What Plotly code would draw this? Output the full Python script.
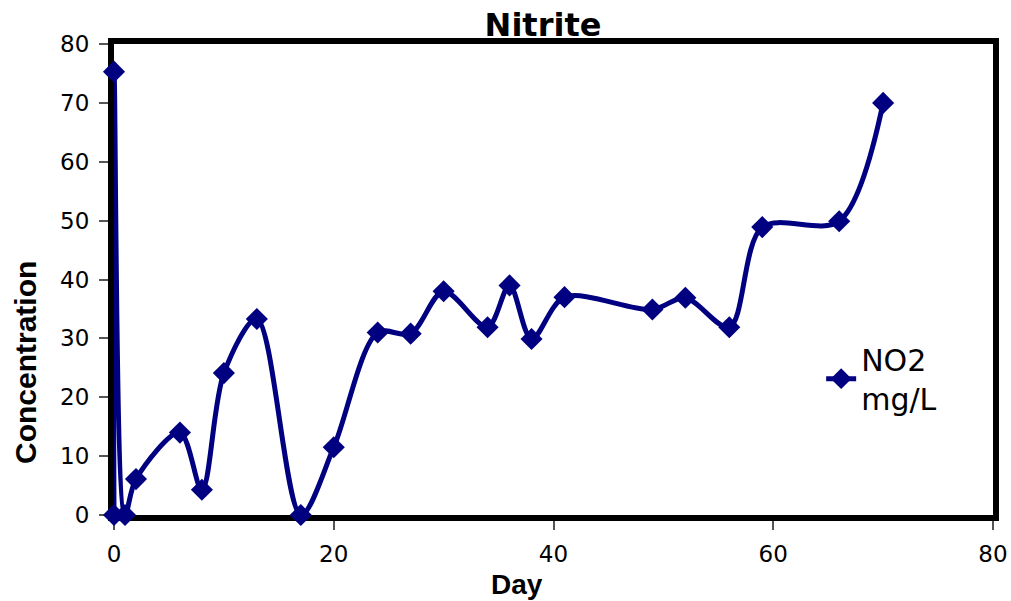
import plotly.graph_objects as go

# NO2 concentration readings over the run
days = [0, 0, 1, 2, 6, 8, 10, 13, 17, 20, 24, 27, 30, 34, 36, 38, 41, 49, 52, 56, 59, 66, 70]
no2_mg_l = [0, 75.3, 0, 6.1, 14.0, 4.3, 24.1, 33.3, 0, 11.5, 31.0, 30.8, 38.0, 31.9, 39.0, 29.9,
            37.0, 34.9, 36.9, 31.9, 48.9, 49.9, 70.0]

x_ticks = [0, 20, 40, 60, 80]
y_ticks = [0, 10, 20, 30, 40, 50, 60, 70, 80]

navy = "#000080"
tick_font = "DejaVu Sans, sans-serif"
bold_font = "Liberation Sans, Arial, sans-serif"

W, H = 1011, 601
L, R, T, B = 114, 18, 44, 86

fig = go.Figure()
fig.add_trace(go.Scatter(
    x=days,
    y=no2_mg_l,
    mode="lines+markers",
    name="NO2<br>mg/L",
    line=dict(color=navy, width=5, shape="spline", smoothing=0.9),
    marker=dict(symbol="diamond", size=17, color=navy),
    cliponaxis=False,
))

axis_common = dict(
    showline=True,
    linecolor="black",
    linewidth=6,
    mirror=True,
    showgrid=False,
    zeroline=False,
    ticks="outside",
    ticklen=9,
    tickwidth=1.5,
    tickcolor="#555555",
    tickfont=dict(family=tick_font, size=23, color="black"),
    layer="below traces",
    automargin=False,
)

fig.update_layout(
    width=W,
    height=H,
    margin=dict(l=L, r=R, t=T, b=B),
    paper_bgcolor="white",
    plot_bgcolor="white",
    title=dict(
        text="<b>Nitrite</b>",
        x=543 / W,
        xanchor="center",
        y=1 - 25 / H,
        yanchor="middle",
        font=dict(family="DejaVu Sans, sans-serif", size=32, color="black"),
    ),
    xaxis=dict(range=[0, 80], tickvals=x_ticks, ticklabelstandoff=4, **axis_common),
    yaxis=dict(range=[0, 80], tickvals=y_ticks, ticklabelstandoff=5, **axis_common),
    showlegend=True,
    legend=dict(
        x=0.8045,
        y=0.386,
        xanchor="left",
        yanchor="top",
        bgcolor="rgba(0,0,0,0)",
        font=dict(family=tick_font, size=30, color="black"),
    ),
    annotations=[
        dict(
            text="<b>Day</b>",
            xref="paper", yref="paper",
            x=(517 - L) / (W - L - R),
            y=-(584 - (H - B)) / (H - T - B),
            xanchor="center", yanchor="middle",
            showarrow=False,
            font=dict(family=bold_font, size=28, color="black"),
        ),
        dict(
            text="<b>Concentration</b>",
            xref="paper", yref="paper",
            x=-(L - 25) / (W - L - R),
            y=((H - B) - 363) / (H - T - B),
            xanchor="center", yanchor="middle",
            textangle=-90,
            showarrow=False,
            font=dict(family=bold_font, size=30, color="black"),
        ),
    ],
)

fig.write_html("out.html")
